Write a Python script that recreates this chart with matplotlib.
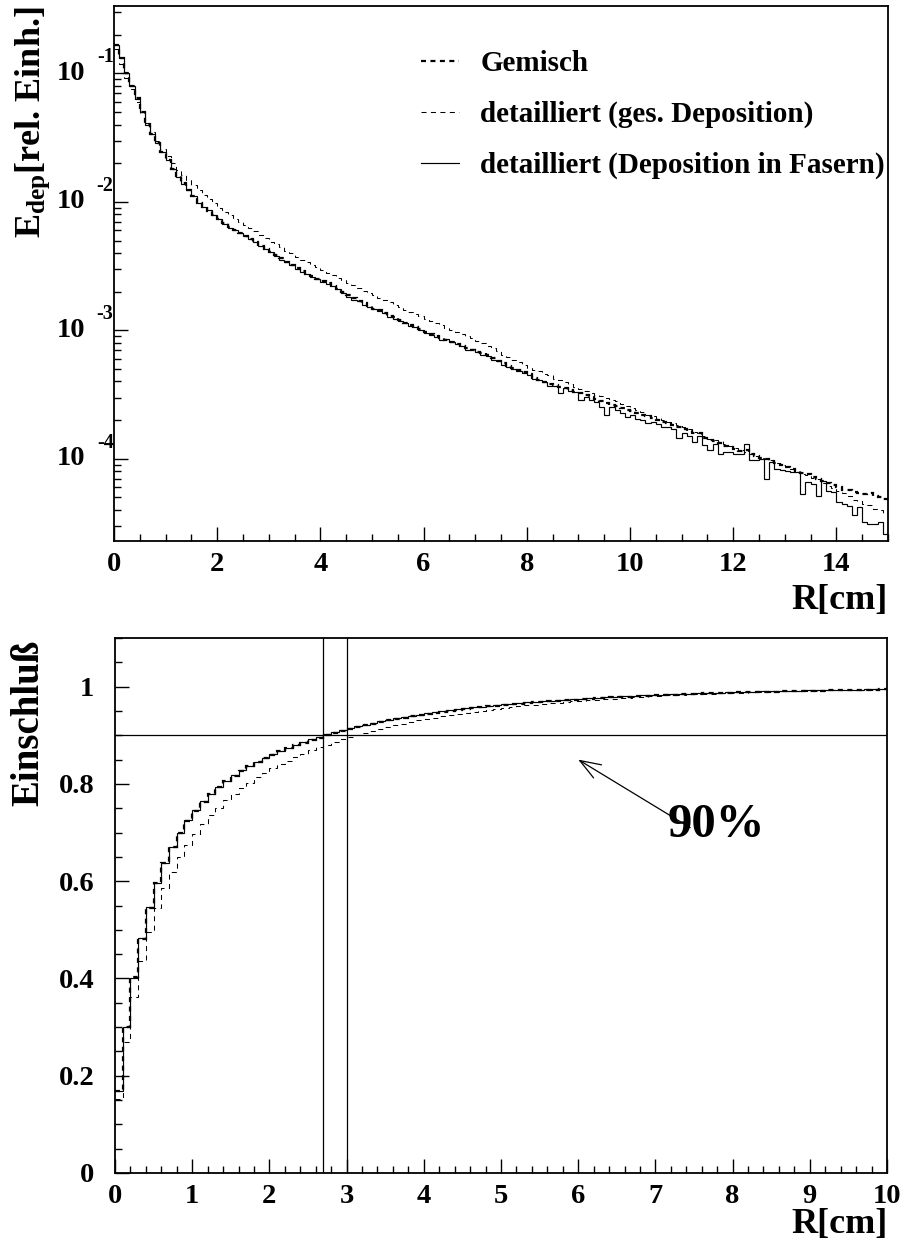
import numpy as np
import matplotlib
matplotlib.use("Agg")
import matplotlib.pyplot as plt
import matplotlib.transforms as mtransforms
from matplotlib.lines import Line2D
from matplotlib.ticker import MultipleLocator, NullFormatter, FuncFormatter, LogLocator

# ---------------- data ----------------
r_max_top = 15.0
n_bins_top = 150
r_max_bottom = 10.0

# log10 of E_dep per 0.1 cm bin (top panel)
log_edep_gemisch = [
    -0.775, -0.88, -0.995, -1.10, -1.195, -1.30, -1.395, -1.47, -1.54, -1.61,
    -1.675, -1.745, -1.80, -1.855, -1.905, -1.955, -2.005, -2.04, -2.07, -2.10,
    -2.13, -2.165, -2.195, -2.22, -2.245, -2.265, -2.29, -2.315, -2.34, -2.365,
    -2.39, -2.415, -2.44, -2.465, -2.49, -2.515, -2.54, -2.56, -2.58, -2.60,
    -2.615, -2.635, -2.655, -2.675, -2.70, -2.725, -2.745, -2.77, -2.79, -2.81,
    -2.83, -2.845, -2.865, -2.885, -2.90, -2.92, -2.94, -2.955, -2.975, -2.99,
    -3.01, -3.03, -3.045, -3.06, -3.075, -3.09, -3.105, -3.12, -3.135, -3.15,
    -3.165, -3.18, -3.195, -3.215, -3.235, -3.255, -3.275, -3.29, -3.31, -3.325,
    -3.34, -3.37, -3.385, -3.40, -3.415, -3.425, -3.44, -3.45, -3.465, -3.48,
    -3.49, -3.505, -3.52, -3.535, -3.55, -3.565, -3.58, -3.59, -3.605, -3.62,
    -3.63, -3.645, -3.66, -3.67, -3.685, -3.70, -3.71, -3.725, -3.74, -3.755,
    -3.77, -3.785, -3.80, -3.80, -3.835, -3.85, -3.86, -3.88, -3.90, -3.91,
    -3.925, -3.94, -3.93, -3.965, -3.98, -3.99, -4.005, -4.02, -4.035, -4.05,
    -4.065, -4.08, -4.095, -4.11, -4.12, -4.145, -4.16, -4.175, -4.19, -4.205,
    -4.22, -4.24, -4.24, -4.255, -4.265, -4.275, -4.27, -4.29, -4.30, -4.31,
]

log_edep_ges = [
    -0.812, -0.928, -1.036, -1.119, -1.222, -1.31, -1.387, -1.456, -1.523, -1.585,
    -1.645, -1.70, -1.75, -1.79, -1.83, -1.87, -1.91, -1.945, -1.975, -2.01,
    -2.045, -2.075, -2.105, -2.13, -2.155, -2.18, -2.205, -2.23, -2.255, -2.285,
    -2.31, -2.33, -2.355, -2.38, -2.40, -2.43, -2.45, -2.47, -2.49, -2.51,
    -2.53, -2.55, -2.57, -2.59, -2.61, -2.63, -2.65, -2.67, -2.69, -2.71,
    -2.725, -2.745, -2.765, -2.78, -2.80, -2.82, -2.84, -2.855, -2.875, -2.89,
    -2.91, -2.93, -2.945, -2.96, -2.98, -2.995, -3.01, -3.03, -3.045, -3.06,
    -3.08, -3.10, -3.12, -3.14, -3.16, -3.19, -3.21, -3.23, -3.25, -3.27,
    -3.29, -3.305, -3.32, -3.34, -3.35, -3.375, -3.39, -3.405, -3.42, -3.44,
    -3.455, -3.47, -3.485, -3.50, -3.51, -3.53, -3.545, -3.55, -3.575, -3.59,
    -3.605, -3.62, -3.635, -3.66, -3.665, -3.68, -3.695, -3.71, -3.725, -3.74,
    -3.755, -3.77, -3.79, -3.80, -3.82, -3.845, -3.85, -3.865, -3.885, -3.90,
    -3.915, -3.93, -3.945, -3.96, -3.975, -3.99, -4.005, -4.01, -4.035, -4.05,
    -4.065, -4.08, -4.10, -4.115, -4.13, -4.15, -4.16, -4.19, -4.21, -4.23,
    -4.25, -4.27, -4.29, -4.32, -4.33, -4.35, -4.36, -4.39, -4.40, -4.42,
]

log_edep_fasern = [
    -0.78, -0.88, -1.00, -1.097, -1.20, -1.30, -1.40, -1.47, -1.545, -1.61,
    -1.675, -1.747, -1.805, -1.857, -1.909, -1.955, -2.012, -2.04, -2.065, -2.10,
    -2.135, -2.17, -2.20, -2.22, -2.24, -2.266, -2.29, -2.31, -2.34, -2.37,
    -2.39, -2.42, -2.45, -2.47, -2.49, -2.52, -2.545, -2.565, -2.585, -2.60,
    -2.62, -2.64, -2.655, -2.68, -2.71, -2.74, -2.76, -2.775, -2.80, -2.815,
    -2.83, -2.85, -2.865, -2.895, -2.91, -2.925, -2.945, -2.97, -2.975, -3.00,
    -3.02, -3.04, -3.05, -3.075, -3.07, -3.09, -3.11, -3.125, -3.15, -3.145,
    -3.17, -3.19, -3.20, -3.23, -3.235, -3.27, -3.285, -3.30, -3.32, -3.33,
    -3.35, -3.375, -3.39, -3.40, -3.43, -3.43, -3.49, -3.45, -3.47, -3.48,
    -3.545, -3.52, -3.54, -3.56, -3.60, -3.66, -3.60, -3.62, -3.64, -3.675,
    -3.66, -3.69, -3.70, -3.72, -3.71, -3.73, -3.75, -3.755, -3.77, -3.84,
    -3.80, -3.82, -3.87, -3.82, -3.896, -3.935, -3.883, -3.96, -3.95, -3.95,
    -3.96, -3.96, -3.883, -4.013, -4.013, -4.00, -4.156, -4.026, -4.078, -4.09,
    -4.095, -4.104, -4.104, -4.273, -4.18, -4.195, -4.286, -4.17, -4.247, -4.26,
    -4.338, -4.35, -4.364, -4.44, -4.377, -4.494, -4.507, -4.507, -4.494, -4.585,
]

labels = ["Gemisch", "detailliert (ges. Deposition)", "detailliert (Deposition in Fasern)"]
containment_cuts = [2.7, 3.0]
containment_level = 0.9
arrow_tip = (6.0, 0.85)
arrow_tail = (7.45, 0.71)
label_90 = "90%"

# ---------------- style ----------------
plt.rcParams["font.family"] = ["Liberation Serif", "DejaVu Serif"]
plt.rcParams["font.weight"] = "bold"
plt.rcParams["mathtext.fontset"] = "custom"
plt.rcParams["mathtext.rm"] = "Liberation Serif:bold"
plt.rcParams["mathtext.it"] = "Liberation Serif:bold"
plt.rcParams["mathtext.bf"] = "Liberation Serif:bold"
plt.rcParams["lines.scale_dashes"] = False

styles = [
    dict(color="black", lw=1.6, ls=(0, (3.6, 3.2))),
    dict(color="black", lw=0.75, ls=(0, (3.6, 3.2))),
    dict(color="black", lw=0.85, ls="-"),
]

W, H = 905, 1249
fig = plt.figure(figsize=(W / 100, H / 100), dpi=100)

def frac_axes(l, t, r, b):
    return fig.add_axes([l / W, 1 - b / H, (r - l) / W, (b - t) / H])

tick_fs = 20.5
label_fs = 26

# ---------------- top panel ----------------
ax1 = frac_axes(114, 6, 888, 541)
edges_top = np.linspace(0, r_max_top, n_bins_top + 1)
series_top = [10 ** np.array(v) for v in (log_edep_gemisch, log_edep_ges, log_edep_fasern)]
for vals, st in zip(series_top, styles):
    ax1.stairs(vals, edges_top, baseline=None, color=st["color"], linewidth=st["lw"], linestyle=st["ls"])

ax1.set_yscale("log")
ax1.set_xlim(0, r_max_top)
ax1.set_ylim(10 ** -4.64, 10 ** -0.475)
ax1.xaxis.set_major_locator(MultipleLocator(2))
ax1.xaxis.set_minor_locator(MultipleLocator(0.5))
ax1.xaxis.set_major_formatter(FuncFormatter(lambda v, p: f"{v:g}"))
ax1.yaxis.set_major_locator(LogLocator(base=10, numticks=10))
ax1.yaxis.set_minor_locator(LogLocator(base=10, subs=np.arange(2, 10), numticks=20))
ax1.yaxis.set_major_formatter(NullFormatter())
ax1.yaxis.set_minor_formatter(NullFormatter())
ax1.tick_params(axis="both", which="major", direction="in", length=10, width=1.0, labelsize=tick_fs, pad=8)
ax1.tick_params(axis="both", which="minor", direction="in", length=5, width=1.0)
ax1.tick_params(axis="x", which="both", top=False)
ax1.tick_params(axis="y", which="both", right=False)
for s in ax1.spines.values():
    s.set_linewidth(1.3)

trans = mtransforms.blended_transform_factory(ax1.transAxes, ax1.transData)
for e in [-1, -2, -3, -4]:
    ax1.text(-0.0375, 10.0 ** e, "10", transform=trans, ha="right", va="center", fontsize=tick_fs)
    ax1.text(-0.0005, 10.0 ** (e + 0.125), f"{e}", transform=trans, ha="right", va="center", fontsize=14.5)

handles = [Line2D([], [], color=st["color"], linewidth=st["lw"], linestyle=st["ls"]) for st in styles]
ax1.legend(handles, labels, loc="upper left", bbox_to_anchor=(0.397, 0.918), frameon=False,
           fontsize=21, handlelength=1.28, handletextpad=0.74, labelspacing=0.82, borderpad=0,
           borderaxespad=0)

fig.text(33 / W, 1 - 6 / H, r"$\mathrm{E_{dep}}$[rel. Einh.]", rotation=90, ha="center", va="top",
         fontsize=label_fs)
fig.text(888 / W, 1 - 600 / H, "R[cm]", ha="right", va="center", fontsize=label_fs)

# ---------------- bottom panel ----------------
ax2 = frac_axes(115, 638, 887, 1173)
n_bottom = int(round(r_max_bottom / (r_max_top / n_bins_top)))
edges_bottom = edges_top[: n_bottom + 1]
for vals, st in zip(series_top, styles):
    cum = np.cumsum(vals) / vals.sum()
    ax2.stairs(cum[:n_bottom], edges_bottom, baseline=None, color=st["color"], linewidth=st["lw"],
               linestyle=st["ls"])

for xc in containment_cuts:
    ax2.axvline(xc, color="black", lw=0.9)
ax2.axhline(containment_level, color="black", lw=0.9)

ax2.annotate("", xy=arrow_tip, xytext=arrow_tail,
             arrowprops=dict(arrowstyle="->,head_length=1.5,head_width=0.55", color="black", lw=0.9,
                             shrinkA=0, shrinkB=0))
ax2.text(7.16, 0.715, label_90, ha="left", va="center", fontsize=35)

ax2.set_xlim(0, r_max_bottom)
ax2.set_ylim(0, 1.1)
ax2.xaxis.set_major_locator(MultipleLocator(1))
ax2.xaxis.set_minor_locator(MultipleLocator(0.2))
ax2.yaxis.set_major_locator(MultipleLocator(0.2))
ax2.yaxis.set_minor_locator(MultipleLocator(0.05))
fmt = FuncFormatter(lambda v, p: f"{v:g}")
ax2.xaxis.set_major_formatter(fmt)
ax2.yaxis.set_major_formatter(fmt)
ax2.tick_params(axis="both", which="major", direction="in", length=10, width=1.0, labelsize=tick_fs, pad=8)
ax2.tick_params(axis="y", which="major", pad=15)
ax2.tick_params(axis="both", which="minor", direction="in", length=5, width=1.0)
ax2.tick_params(axis="x", which="both", top=False)
ax2.tick_params(axis="y", which="both", right=False)
for s in ax2.spines.values():
    s.set_linewidth(1.3)

fig.text(29 / W, 1 - 640 / H, "Einschluß", rotation=90, ha="center", va="top", fontsize=28)
fig.text(888 / W, 1 - 1225 / H, "R[cm]", ha="right", va="center", fontsize=label_fs)

fig.savefig("out.png", dpi=100)
